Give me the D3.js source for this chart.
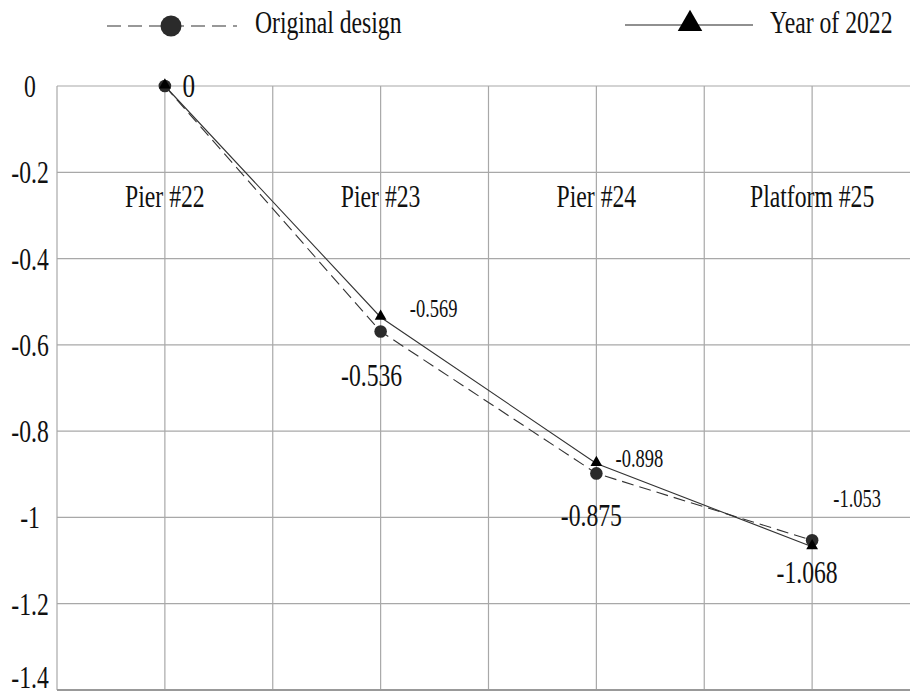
<!DOCTYPE html>
<html>
<head>
<meta charset="utf-8">
<script src="https://cdn.jsdelivr.net/npm/d3@7"></script>
<style>
  html, body { margin: 0; padding: 0; background: #fff; }
  svg { display: block; }
  text { font-family: "Liberation Serif", "DejaVu Serif", serif; }
</style>
</head>
<body>
<script>
// ---- data ----
const categories = ["Pier #22", "Pier #23", "Pier #24", "Platform #25"];
const originalDesign = [0, -0.569, -0.898, -1.053];
const year2022 = [0, -0.536, -0.875, -1.068];
const originalLabels = ["", "-0.569", "-0.898", "-1.053"];
const year2022Labels = ["0", "-0.536", "-0.875", "-1.068"];
const yTicks = [0, -0.2, -0.4, -0.6, -0.8, -1, -1.2, -1.4];
const yTickLabels = ["0", "-0.2", "-0.4", "-0.6", "-0.8", "-1", "-1.2", "-1.4"];
const seriesNames = ["Original design", "Year of 2022"];

// ---- layout (label offsets in px, relative to marks) ----
const bigLabelOffset = [[24, 11], [-9, 69], [-5, 62], [-5, 36]];
const smallLabelOffset = [[0, 0], [53, -14], [43, -6], [45, -33]];

const W = 910, H = 697;
const SX = 0.74;

const svg = d3.select("body").append("svg").attr("width", W).attr("height", H);

const x = d3.scaleBand().domain(categories).range([57, 920]).paddingInner(0).paddingOuter(0);
const y = d3.scaleLinear().domain([0, -1.4]).range([86, 690]);
const cx = c => x(c) + x.bandwidth() / 2;

function label(g, px, py, txt, size, anchor) {
  g.append("g").attr("transform", `translate(${px},${py}) scale(${SX},1)`)
    .append("text").attr("text-anchor", anchor || "middle")
    .style("font-family", '"Liberation Serif", "DejaVu Serif", serif')
    .attr("font-size", size).attr("fill", "#111")
    .text(txt);
}

// ---- grid ----
const grid = svg.append("g");
const vLines = [];
categories.forEach(c => { vLines.push(x(c)); vLines.push(cx(c)); });
grid.selectAll("line.v").data(vLines).join("line")
  .attr("x1", d => d).attr("x2", d => d)
  .attr("y1", y(0)).attr("y2", y(-1.4))
  .attr("stroke", "#a8a8a8").attr("stroke-width", 1.2);
grid.selectAll("line.h").data(yTicks).join("line")
  .attr("x1", 57).attr("x2", W)
  .attr("y1", d => y(d)).attr("y2", d => y(d))
  .attr("stroke", d => d === -1.4 ? "#999" : "#a8a8a8")
  .attr("stroke-width", d => d === -1.4 ? 2 : 1.2);

// ---- y tick labels ----
const tg = svg.append("g");
yTicks.forEach((t, i) => label(tg, 30, Math.min(y(t) + 11, H - 9), yTickLabels[i], 32, "middle"));

// ---- category labels ----
const cg = svg.append("g");
categories.forEach(c => label(cg, cx(c), y(-0.2) + 35, c, 32, "middle"));

// ---- lines ----
const lineGen = d3.line().x((d, i) => cx(categories[i])).y(d => y(d));
svg.append("path").datum(originalDesign).attr("d", lineGen)
  .attr("fill", "none").attr("stroke", "#333").attr("stroke-width", 1.1)
  .attr("stroke-dasharray", "12,6");
svg.append("path").datum(year2022).attr("d", lineGen)
  .attr("fill", "none").attr("stroke", "#333").attr("stroke-width", 1.1);

// ---- markers ----
const tri = d3.symbol().type(d3.symbolTriangle);
svg.selectAll("circle.od").data(originalDesign).join("circle")
  .attr("cx", (d, i) => cx(categories[i])).attr("cy", d => y(d)).attr("r", 6.3)
  .attr("fill", "#2b2b2b");
svg.selectAll("path.tri").data(year2022).join("path")
  .attr("d", tri.size(60))
  .attr("transform", (d, i) => `translate(${cx(categories[i])},${y(d) - 1})`)
  .attr("fill", "#000");

// ---- data labels ----
const lg = svg.append("g");
year2022.forEach((v, i) => {
  const o = bigLabelOffset[i];
  label(lg, cx(categories[i]) + o[0], y(v) + o[1], year2022Labels[i], i === 0 ? 34 : 32, "middle");
});
originalDesign.forEach((v, i) => {
  if (!originalLabels[i]) return;
  const o = smallLabelOffset[i];
  label(lg, cx(categories[i]) + o[0], y(v) + o[1], originalLabels[i], 25, "middle");
});

// ---- legend ----
const leg = svg.append("g");
leg.append("line").attr("x1", 107).attr("x2", 237).attr("y1", 26).attr("y2", 26)
  .attr("stroke", "#333").attr("stroke-width", 1.2).attr("stroke-dasharray", "14,7");
leg.append("circle").attr("cx", 171).attr("cy", 26).attr("r", 10.5).attr("fill", "#2b2b2b");
label(leg, 255, 33, seriesNames[0], 32, "start");

leg.append("line").attr("x1", 625).attr("x2", 753).attr("y1", 25).attr("y2", 25)
  .attr("stroke", "#222").attr("stroke-width", 1.2);
leg.append("path").attr("d", tri.size(260)).attr("transform", "translate(690,24)").attr("fill", "#000");
label(leg, 770, 33, seriesNames[1], 32, "start");
</script>
</body>
</html>
